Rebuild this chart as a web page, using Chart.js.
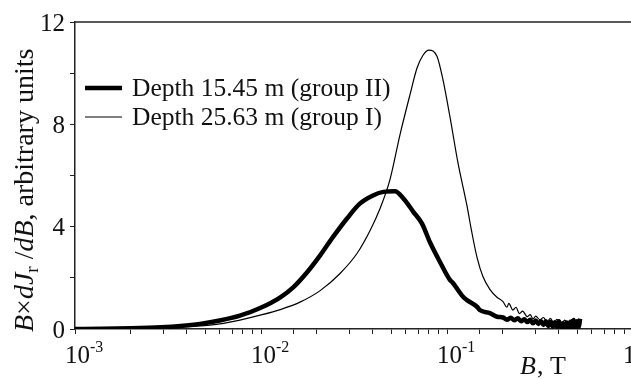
<!DOCTYPE html>
<html>
<head>
<meta charset="utf-8">
<script src="https://cdn.jsdelivr.net/npm/chart.js@4.4.1/dist/chart.umd.min.js"></script>
<style>
html, body { margin: 0; padding: 0; background: #fff; overflow: hidden; }
#wrap { width: 631px; height: 379px; overflow: hidden; position: relative; }
canvas { display: block; }
</style>
</head>
<body>
<div id="wrap"><canvas id="chart" width="660" height="379"></canvas></div>
<script>
// magnetic field B (T) and B*dJr/dB for the two depths

// depth 15.45 m (group II), thick line
var b15 = [0.001, 0.0014, 0.002, 0.0029, 0.0037, 0.0047, 0.006, 0.0077, 0.0099, 0.0127,
    0.0149, 0.0177, 0.0208, 0.0244, 0.029, 0.034, 0.040, 0.0455, 0.0525, 0.058,
    0.0656, 0.0734, 0.0811, 0.0917, 0.1037, 0.1076, 0.122, 0.128, 0.145, 0.150,
    0.170, 0.186, 0.2, 0.21, 0.22, 0.23, 0.24, 0.25, 0.26, 0.27, 0.28, 0.29, 0.3,
    0.31, 0.32, 0.33, 0.34, 0.35, 0.36, 0.37, 0.38, 0.39, 0.40, 0.41, 0.42, 0.43,
    0.44, 0.45, 0.46, 0.47, 0.48, 0.49, 0.50, 0.51, 0.52];
var v15 = [0.0, 0.01, 0.03, 0.07, 0.12, 0.2, 0.33, 0.52, 0.82, 1.24,
    1.63, 2.22, 2.88, 3.6, 4.32, 4.9, 5.22, 5.36, 5.38, 5.12,
    4.6, 4.12, 3.38, 2.62, 1.92, 1.8, 1.26, 1.13, 0.87, 0.74,
    0.62, 0.48, 0.45, 0.36, 0.44, 0.34, 0.42, 0.3, 0.38, 0.27, 0.36, 0.22, 0.33,
    0.2, 0.3, 0.16, 0.3, 0.12, 0.28, 0.1, 0.26, 0.08, 0.3, 0.06, 0.22, 0.05,
    0.25, 0.04, 0.28, 0.05, 0.35, 0.04, 0.3, 0.08, 0.4];

// depth 25.63 m (group I), thin line
var b25 = [0.001, 0.002, 0.0029, 0.0037, 0.0047, 0.006, 0.0077, 0.0099, 0.0127, 0.0162,
    0.0208, 0.0266, 0.0328, 0.0386, 0.0436, 0.0494, 0.0559, 0.0632, 0.069, 0.0743,
    0.080, 0.0884, 0.0951, 0.1037, 0.1145, 0.1282, 0.135, 0.145, 0.156, 0.170,
    0.185, 0.2, 0.21, 0.215, 0.226, 0.235, 0.245, 0.255, 0.27, 0.28, 0.29, 0.3,
    0.316, 0.33, 0.345, 0.36, 0.375, 0.39, 0.41, 0.43, 0.45, 0.47, 0.49, 0.51, 0.52];
var v25 = [0.0, 0.02, 0.04, 0.07, 0.12, 0.2, 0.35, 0.54, 0.76, 1.05,
    1.5, 2.17, 2.95, 3.85, 4.7, 5.85, 7.6, 9.15, 10.2, 10.7,
    10.9, 10.65, 9.75, 8.3, 6.5, 4.8, 3.9, 2.8, 2.05, 1.55,
    1.25, 1.07, 0.85, 1.0, 0.74, 0.85, 0.6, 0.7, 0.48, 0.56, 0.4, 0.5,
    0.36, 0.45, 0.28, 0.42, 0.22, 0.38, 0.18, 0.35, 0.15, 0.38, 0.12, 0.3, 0.2];

var seriesNames = ['Depth 15.45 m (group II)', 'Depth 25.63 m (group I)'];
var yLabels = [0, 4, 8, 12];
var xExponents = [-3, -2, -1, 0];

var serif = "'Liberation Serif', 'Times New Roman', serif";

function toPoints(bs, vs) {
    return bs.map(function (b, i) { return { x: b, y: vs[i] }; });
}

// labels, titles, legend and the top frame line
var decorPlugin = {
    id: 'decor',
    afterDraw: function (chart) {
        var ctx = chart.ctx;
        var area = chart.chartArea;
        var xs = chart.scales.x;
        var ys = chart.scales.y;
        ctx.save();
        ctx.fillStyle = '#111';
        ctx.strokeStyle = '#222';

        // top frame
        ctx.lineWidth = 1.5;
        ctx.beginPath();
        ctx.moveTo(area.left, area.top);
        ctx.lineTo(area.right, area.top);
        ctx.stroke();

        // y tick labels
        ctx.font = '25px ' + serif;
        ctx.textAlign = 'right';
        ctx.textBaseline = 'alphabetic';
        yLabels.forEach(function (v) {
            ctx.fillText(String(v), 65, ys.getPixelForValue(v) + 8.5);
        });

        // x tick labels 10^n
        ctx.textAlign = 'left';
        xExponents.forEach(function (e) {
            var px = xs.getPixelForValue(Math.pow(10, e));
            var left = px - 10;
            ctx.font = '25px ' + serif;
            ctx.fillText('10', left, 363);
            var w = ctx.measureText('10').width;
            ctx.font = '16px ' + serif;
            ctx.fillText(String(e), left + w, 352);
        });

        // x title
        ctx.font = 'italic 26px ' + serif;
        ctx.fillText('B', 520, 374);
        var wb = ctx.measureText('B').width;
        ctx.font = '26px ' + serif;
        ctx.fillText(', T', 520 + wb + 1, 374);

        // y title, rotated
        ctx.save();
        ctx.translate(33, 332);
        ctx.rotate(-Math.PI / 2);
        var parts = [
            ['italic 28px ', 'B', 0],
            ['28px ', '\u00d7', 0],
            ['italic 28px ', 'dJ', 0],
            ['19px ', 'r', 5],
            ['28px ', ' /', 0],
            ['italic 28px ', 'dB', 0],
            ['28px ', ', arbitrary units', 0]
        ];
        var cx = 0;
        parts.forEach(function (p) {
            ctx.font = p[0] + serif;
            ctx.fillText(p[1], cx, p[2]);
            cx += ctx.measureText(p[1]).width;
        });
        ctx.restore();

        // legend
        chart.data.datasets.forEach(function (ds, i) {
            var ly = 88 + i * 29;
            ctx.lineWidth = ds.borderWidth;
            ctx.strokeStyle = ds.borderColor;
            ctx.beginPath();
            ctx.moveTo(85, ly);
            ctx.lineTo(122, ly);
            ctx.stroke();
            ctx.font = '25.5px ' + serif;
            ctx.textAlign = 'left';
            ctx.fillText(ds.label, 132, ly + 8);
        });

        ctx.restore();
    }
};

var ctx = document.getElementById('chart').getContext('2d');
var chart = new Chart(ctx, {
    type: 'scatter',
    data: {
        datasets: [{
            label: seriesNames[0],
            data: toPoints(b15, v15),
            showLine: true,
            borderColor: '#000',
            borderWidth: 4.5,
            pointRadius: 0,
            cubicInterpolationMode: 'monotone'
        }, {
            label: seriesNames[1],
            data: toPoints(b25, v25),
            showLine: true,
            borderColor: '#000',
            borderWidth: 1.2,
            pointRadius: 0,
            cubicInterpolationMode: 'monotone'
        }]
    },
    options: {
        responsive: false,
        devicePixelRatio: 1,
        animation: false,
        layout: { padding: { left: 0, right: 27, top: 22, bottom: 0 } },
        plugins: {
            legend: { display: false },
            tooltip: { enabled: false }
        },
        scales: {
            x: {
                type: 'logarithmic',
                min: 0.001,
                max: 1,
                ticks: { display: false },
                grid: { drawOnChartArea: false, drawTicks: true, tickLength: 5, color: '#222', lineWidth: 1 },
                border: { display: true, color: '#222', width: 1.5 },
                afterFit: function (s) { s.height = 50; }
            },
            y: {
                min: 0,
                max: 12,
                ticks: { display: false, stepSize: 2 },
                grid: { drawOnChartArea: false, drawTicks: true, tickLength: 5, color: '#222', lineWidth: 1 },
                border: { display: true, color: '#222', width: 1.5 },
                afterFit: function (s) { s.width = 75; }
            }
        }
    },
    plugins: [decorPlugin]
});
</script>
</body>
</html>
